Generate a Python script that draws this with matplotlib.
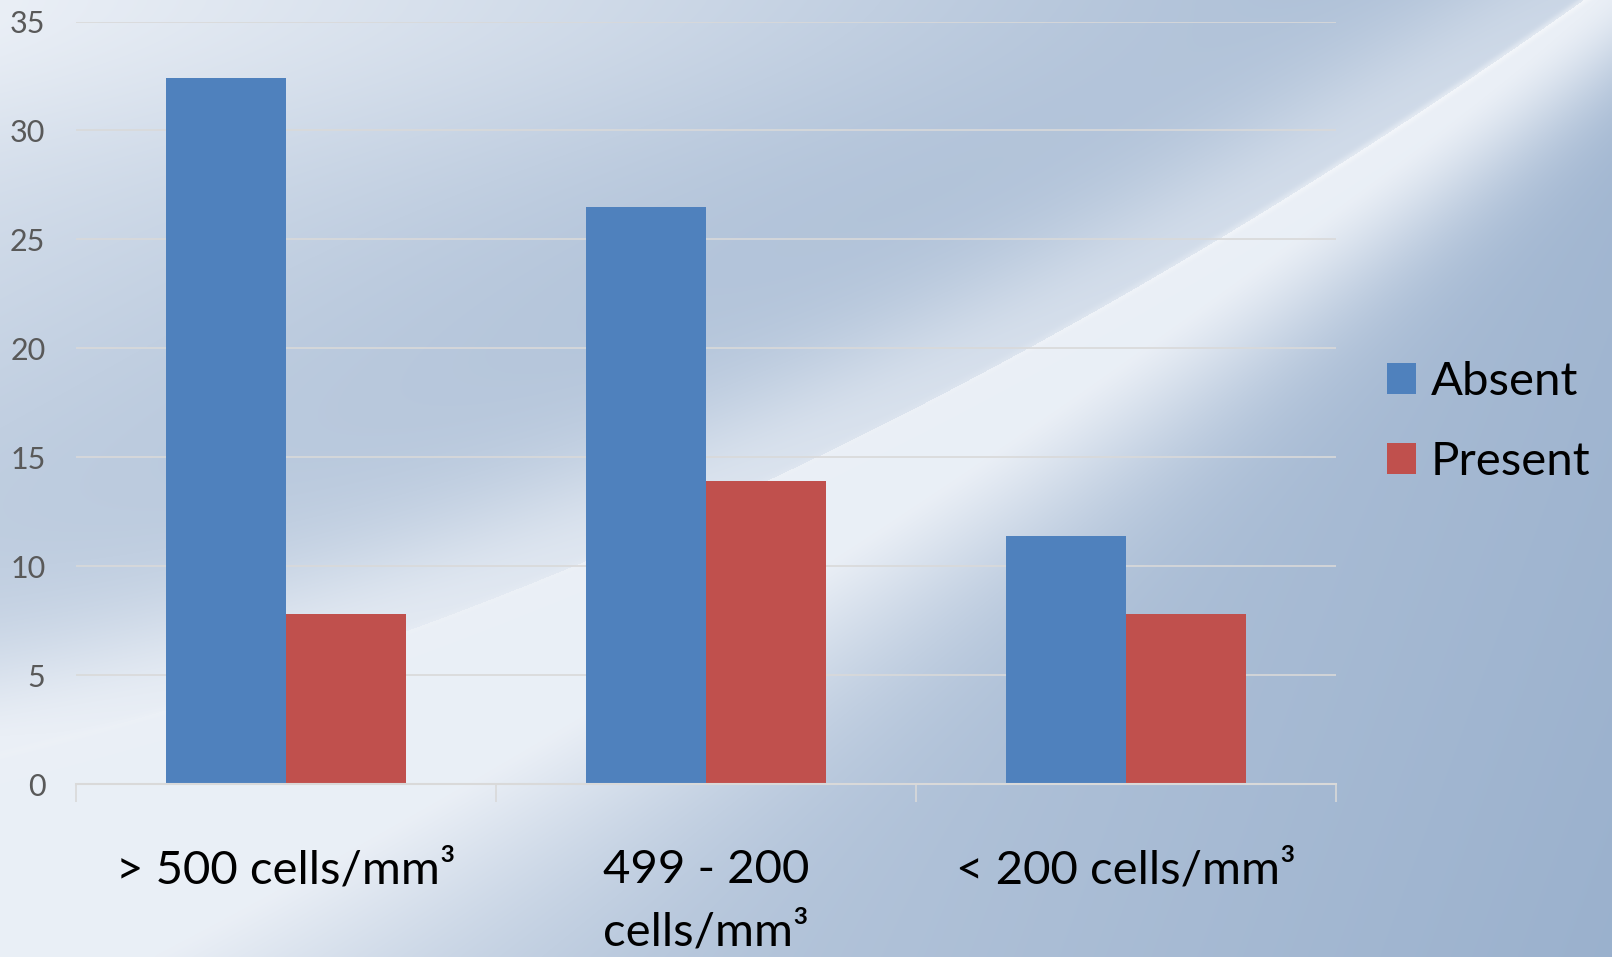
import numpy as np
import matplotlib.pyplot as plt
from matplotlib.colors import to_rgb

# =========================
# DATA
# =========================
categorias = ["> 500 cells/mm³", "499 - 200\ncells/mm³", "< 200 cells/mm³"]
absent = [32.4, 26.5, 11.4]
present = [7.8, 13.9, 7.8]
y_ticks = [0, 5, 10, 15, 20, 25, 30, 35]

cor_absent = "#4F81BD"
cor_present = "#C0504D"

W, H = 1612, 957
plt.rcParams["font.family"] = ["Lato", "DejaVu Sans"]

fig = plt.figure(figsize=(W / 100, H / 100), dpi=100)

# =========================
# FUNDO (gradiente decorativo)
# =========================
xx, yy = np.meshgrid(np.arange(W), np.arange(H))
u = xx / W
v = yy / H
a, b, c = -1.46e-4, -0.2456, 754.6
y_linha = a * xx**2 + b * xx + c
d = yy - y_linha

t = 0.30 + 0.55 * u + 0.12 * v
t -= 0.30 * np.exp(-(yy / 150.0) ** 2) * (1 - u)
t += 0.17 * np.exp(-((d + 250) / 200.0) ** 2) * (1 - u) * (d < 0)
w_glow = 340 - 220 * (xx / 1500.0)
t -= np.where(d > 0, 0.85 * np.exp(-(d / w_glow) ** 2), 0.45 * np.exp(-(d / 110.0) ** 2))
t = np.clip(t, 0, 1)
brilho = (0.10 + 0.3 * np.clip((xx - 900) / 500.0, 0, 1)) * np.exp(-(d / 5.0) ** 2)

claro = np.array(to_rgb("#eaeff6"))
escuro = np.array(to_rgb("#98afcc"))
img = claro[None, None, :] + t[..., None] * (escuro - claro)[None, None, :]
img = img + brilho[..., None] * (1 - img)
img = np.clip(img, 0, 1)

bg = fig.add_axes([0, 0, 1, 1], zorder=0)
bg.imshow(img, aspect="auto", interpolation="bilinear")
bg.axis("off")

# =========================
# GRAFICO
# =========================
ax = fig.add_axes([76 / W, 1 - 784 / H, 1260 / W, (784 - 21.5) / H], zorder=1)
ax.patch.set_alpha(0)

x = np.arange(len(categorias))
largura = 120 / 420
ax.bar(x - largura / 2, absent, largura, color=cor_absent, label="Absent", zorder=3)
ax.bar(x + largura / 2, present, largura, color=cor_present, label="Present", zorder=3)

ax.set_xlim(-0.5, len(categorias) - 0.5)
ax.set_ylim(0, 35)
ax.set_yticks(y_ticks)
ax.set_yticklabels([str(t_) for t_ in y_ticks], fontsize=22, color="#595959")
ax.yaxis.grid(True, color="#d9d9d9", linewidth=1.2, zorder=0)
ax.tick_params(axis="y", length=0, pad=22)

ax.set_xticks(x)
ax.set_xticklabels(categorias, fontsize=34, color="black", linespacing=1.6)
ax.set_xticks(np.arange(-0.5, len(categorias)), minor=True)
ax.tick_params(axis="x", which="major", length=0, pad=47)
ax.tick_params(axis="x", which="minor", length=13, width=1.2, color="#d9d9d9")

for lado in ["top", "right", "left"]:
    ax.spines[lado].set_visible(False)
ax.spines["bottom"].set_color("#d9d9d9")
ax.spines["bottom"].set_linewidth(1.5)
ax.spines["bottom"].set_zorder(4)

fig.legend(loc="center left", bbox_to_anchor=(1387 / W, 1 - 422 / H),
           frameon=False, fontsize=34, handlelength=0.62, handleheight=0.62,
           handletextpad=0.3, labelspacing=0.8, borderpad=0, borderaxespad=0)

fig.savefig("out.png", dpi=100)
